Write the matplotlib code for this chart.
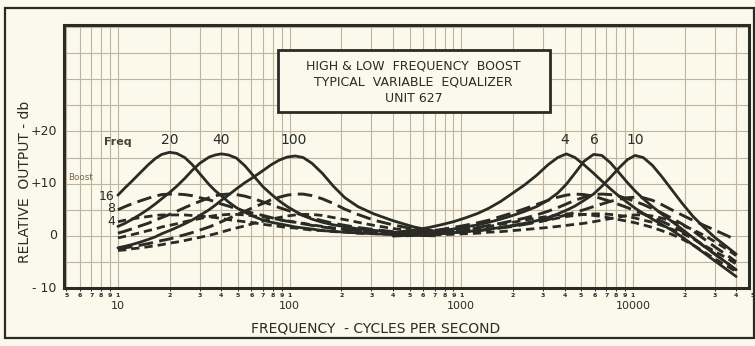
import matplotlib
matplotlib.use("Agg")
from matplotlib import pyplot as plt
from matplotlib.patches import Rectangle

lf_freq = [10, 11, 12, 13.5, 15, 16.5, 18, 20, 22, 24.5, 27, 30, 34, 37, 40, 44, 49, 55, 62, 70, 78, 87, 97,
           108, 120, 135, 155, 180, 210, 250, 310, 400, 530, 700]
hf_freq = [400, 470, 550, 650, 760, 900, 1050, 1250, 1450, 1700, 2000, 2350, 2750, 3200, 3650, 4100, 4600,
           5200, 5900, 6600, 7400, 8300, 9300, 10300, 11500, 13000, 14700, 16800, 19300, 22300, 26000, 30000,
           35000, 40000]

# low frequency boost curves, db  (name = centre freq _ boost)
lf_20_16 = [7.8, 9.2, 10.4, 12.1, 13.6, 14.8, 15.6, 16.0, 15.8, 15.0, 13.7, 11.9, 9.8, 8.6, 7.7, 6.5, 5.4, 4.5,
            3.7, 3.0, 2.6, 2.3, 2.0, 1.7, 1.5, 1.3, 1.0, 0.85, 0.7, 0.55, 0.4, 0.25, 0.1, 0.0]
lf_20_8 = [5.0, 5.6, 6.1, 6.7, 7.2, 7.6, 7.9, 8.0, 8.0, 7.9, 7.7, 7.3, 6.9, 6.5, 6.1, 5.7, 5.2, 4.7, 4.3, 3.9,
           3.5, 3.1, 2.8, 2.6, 2.3, 2.0, 1.7, 1.4, 1.2, 1.0, 0.7, 0.5, 0.3, 0.1]
lf_20_4 = [2.7, 3.0, 3.2, 3.5, 3.7, 3.9, 4.0, 4.0, 4.0, 4.0, 3.9, 3.8, 3.6, 3.5, 3.3, 3.1, 2.9, 2.7, 2.5, 2.2,
           2.0, 1.8, 1.6, 1.5, 1.3, 1.1, 1.0, 0.8, 0.7, 0.5, 0.4, 0.3, 0.2, 0.1]
lf_40_16 = [1.8, 2.4, 3.1, 4.1, 5.1, 6.1, 7.1, 8.3, 9.5, 11.0, 12.5, 13.9, 15.1, 15.5, 15.7, 15.5, 14.9, 13.4,
            11.4, 9.4, 8.0, 6.7, 5.6, 4.7, 3.9, 3.2, 2.6, 2.1, 1.75, 1.35, 1.05, 0.7, 0.45, 0.3]
lf_40_8 = [0.5, 0.9, 1.3, 1.9, 2.4, 3.0, 3.5, 4.1, 4.7, 5.4, 6.0, 6.6, 7.3, 7.7, 7.9, 8.0, 7.9, 7.6, 7.1, 6.5,
           6.0, 5.4, 4.9, 4.4, 3.9, 3.4, 2.9, 2.4, 2.0, 1.6, 1.2, 0.8, 0.5, 0.3]
lf_40_4 = [-0.4, -0.1, 0.2, 0.6, 1.0, 1.3, 1.7, 2.0, 2.3, 2.7, 3.0, 3.3, 3.7, 3.9, 4.0, 4.1, 4.1, 4.0, 3.8, 3.6,
           3.4, 3.1, 2.9, 2.6, 2.4, 2.1, 1.8, 1.5, 1.3, 1.0, 0.8, 0.5, 0.3, 0.2]
lf_100_16 = [-2.3, -2.0, -1.7, -1.2, -0.7, -0.2, 0.4, 1.0, 1.6, 2.3, 3.0, 3.9, 5.0, 5.9, 6.8, 7.8, 9.0, 10.2,
             11.3, 12.5, 13.6, 14.5, 15.1, 15.3, 15.0, 13.9, 12.0, 9.5, 7.3, 5.6, 4.2, 2.9, 1.7, 0.9]
lf_100_8 = [-2.5, -2.3, -2.1, -1.8, -1.5, -1.2, -0.9, -0.6, -0.2, 0.2, 0.6, 1.1, 1.7, 2.2, 2.7, 3.3, 4.0, 4.7,
            5.5, 6.2, 6.9, 7.4, 7.8, 8.0, 8.0, 7.7, 7.1, 6.2, 5.1, 4.1, 3.0, 2.1, 1.3, 0.6]
lf_100_4 = [-2.8, -2.7, -2.5, -2.3, -2.1, -1.9, -1.7, -1.4, -1.2, -0.9, -0.6, -0.3, 0.1, 0.4, 0.7, 1.1, 1.5, 1.9,
            2.4, 2.8, 3.2, 3.5, 3.8, 4.0, 4.1, 4.1, 3.9, 3.5, 3.1, 2.6, 2.0, 1.4, 0.9, 0.5]

# high frequency boost curves, db
hf_4k_16 = [0.6, 0.9, 1.2, 1.6, 2.1, 2.7, 3.4, 4.3, 5.3, 6.6, 8.2, 9.8, 11.6, 13.6, 15.0, 15.7, 15.0, 13.6, 12.0,
            10.5, 9.0, 7.6, 6.4, 5.3, 4.3, 3.2, 2.2, 1.1, -0.2, -1.7, -3.3, -4.8, -6.4, -7.8]
hf_4k_8 = [0.3, 0.5, 0.7, 0.9, 1.2, 1.6, 2.0, 2.5, 3.0, 3.7, 4.4, 5.2, 6.0, 6.8, 7.4, 7.8, 8.0, 7.9, 7.6, 7.1,
           6.6, 6.0, 5.4, 4.8, 4.2, 3.5, 2.8, 1.9, 0.9, -0.4, -2.0, -3.5, -5.1, -6.6]
hf_4k_4 = [0.2, 0.3, 0.4, 0.6, 0.8, 1.0, 1.2, 1.5, 1.8, 2.2, 2.6, 3.0, 3.4, 3.7, 4.0, 4.2, 4.2, 4.1, 3.9, 3.7,
           3.4, 3.1, 2.8, 2.5, 2.1, 1.6, 1.0, 0.3, -0.6, -1.7, -3.1, -4.4, -5.7, -6.9]
hf_6k_16 = [0.1, 0.3, 0.5, 0.7, 1.0, 1.3, 1.7, 2.1, 2.6, 3.2, 3.9, 4.7, 5.6, 6.8, 8.2, 9.9, 12.0, 14.3, 15.6,
            15.4, 14.0, 12.1, 10.2, 8.6, 7.1, 5.6, 4.2, 2.8, 1.3, -0.3, -2.0, -3.5, -5.1, -6.5]
hf_6k_8 = [0.1, 0.2, 0.4, 0.6, 0.8, 1.0, 1.3, 1.6, 2.0, 2.4, 2.9, 3.4, 4.0, 4.7, 5.4, 6.1, 6.8, 7.4, 7.9, 8.0,
           7.9, 7.6, 7.1, 6.6, 6.0, 5.2, 4.4, 3.4, 2.3, 1.0, -0.6, -2.1, -3.6, -5.0]
hf_6k_4 = [0.1, 0.1, 0.2, 0.3, 0.5, 0.6, 0.8, 1.0, 1.3, 1.6, 1.9, 2.3, 2.7, 3.0, 3.4, 3.7, 3.9, 4.1, 4.2, 4.2,
           4.1, 3.9, 3.7, 3.4, 3.0, 2.6, 2.0, 1.3, 0.5, -0.5, -1.8, -3.0, -4.2, -5.4]
hf_10k_16 = [0.0, 0.1, 0.2, 0.3, 0.5, 0.6, 0.8, 1.0, 1.3, 1.6, 2.0, 2.4, 2.9, 3.5, 4.2, 4.9, 5.7, 6.8, 8.0, 9.5,
             11.2, 13.0, 14.6, 15.4, 15.0, 13.5, 11.4, 8.9, 6.3, 3.8, 1.6, -0.3, -2.0, -3.5]
hf_10k_8 = [0.0, 0.1, 0.2, 0.3, 0.4, 0.6, 0.8, 1.0, 1.2, 1.5, 1.8, 2.2, 2.6, 3.1, 3.6, 4.0, 4.5, 5.0, 5.6, 6.1,
            6.6, 7.0, 7.3, 7.4, 7.3, 6.8, 6.0, 5.0, 4.0, 3.0, 2.0, 1.1, 0.1, -0.8]
hf_10k_4 = [0.0, 0.0, 0.1, 0.2, 0.2, 0.3, 0.4, 0.5, 0.7, 0.8, 1.0, 1.2, 1.4, 1.6, 1.8, 2.0, 2.2, 2.4, 2.7, 3.0,
            3.3, 3.6, 3.9, 4.0, 4.0, 3.8, 3.4, 2.8, 2.1, 1.2, 0.1, -1.1, -2.5, -3.8]

ink = "#2b2b25"
paper = "#fbf9ec"
grid_col = "#c2b39d"

fig = plt.figure(figsize=(7.55, 3.46), dpi=100)
fig.patch.set_facecolor(paper)
fig.patches.append(Rectangle((5 / 755, 1 - 338 / 346), 749 / 755, 330 / 346, transform=fig.transFigure,
                             fill=False, edgecolor=ink, linewidth=1.6))

ax = fig.add_axes([64 / 755, 1 - 288 / 346, 685 / 755, 263 / 346])
ax.set_facecolor(paper)
ax.set_xscale("log")
ax.set_xlim(4.85, 47500)
ax.set_ylim(-10, 40.4)

# grid: every 1..9 on the log axis, every 5 db
for dec in [1, 10, 100, 1000, 10000]:
    for m in range(1, 10):
        f = m * dec
        if 4.85 < f < 47500:
            ax.axvline(f, color=grid_col, lw=0.8, zorder=0)
for y in range(-5, 41, 5):
    ax.axhline(y, color=grid_col, lw=0.8, zorder=0)

for s in ax.spines.values():
    s.set_linewidth(2.2)
    s.set_color(ink)
ax.set_xticks([])
ax.set_yticks([])

solid = dict(color=ink, lw=2.0, ls="-", solid_capstyle="round")
long_dash = dict(color=ink, lw=2.1, ls=(0, (5, 2.2)))
short_dash = dict(color=ink, lw=2.0, ls=(0, (3, 1.8)))

for vals, st in [(lf_20_16, solid), (lf_40_16, solid), (lf_100_16, solid),
                 (lf_20_8, long_dash), (lf_40_8, long_dash), (lf_100_8, long_dash),
                 (lf_20_4, short_dash), (lf_40_4, short_dash), (lf_100_4, short_dash)]:
    ax.plot(lf_freq, vals, **st)
for vals, st in [(hf_4k_16, solid), (hf_6k_16, solid), (hf_10k_16, solid),
                 (hf_4k_8, long_dash), (hf_6k_8, long_dash), (hf_10k_8, long_dash),
                 (hf_4k_4, short_dash), (hf_6k_4, short_dash), (hf_10k_4, short_dash)]:
    ax.plot(hf_freq, vals, **st)

# curve labels
ax.text(8.3, 17.9, "Freq", fontsize=8, color="#4a4232", ha="left", va="center", fontweight="bold")
for f, lab in [(20, "20"), (40, "40"), (105, "100"), (4000, "4"), (6000, "6"), (10300, "10")]:
    ax.text(f, 18.3, lab, fontsize=10, color=ink, ha="center", va="center")
ax.text(5.1, 11.1, "Boost", fontsize=6.3, color="#7a6448", ha="left", va="center")
for y, lab in [(7.6, "16"), (5.2, "8"), (2.7, "4")]:
    ax.text(9.6, y, lab, fontsize=9, color=ink, ha="right", va="center")

# title box
ax.add_patch(Rectangle((0.312, 0.669), 0.3975, 0.236, transform=ax.transAxes, facecolor=paper,
                       edgecolor=ink, linewidth=2.0, zorder=5))
ax.text(0.5105, 0.783, "HIGH & LOW  FREQUENCY  BOOST\nTYPICAL  VARIABLE  EQUALIZER\nUNIT 627",
        transform=ax.transAxes, fontsize=9, color=ink, ha="center", va="center", linespacing=1.3,
        zorder=6)

# y tick labels
for y, lab in [(20, "+20"), (10, "+10"), (0, "0"), (-10, "- 10")]:
    ax.text(4.4, y, lab, fontsize=9, color=ink, ha="right", va="center")

# small x tick digits and decade labels
small = []
for dec in [1, 10, 100, 1000, 10000]:
    for m in range(1, 10):
        f = m * dec
        if 4.9 <= f <= 50000:
            small.append((f, "1" if m == 1 else str(m)))
for f, lab in small:
    ax.text(f, -11.4, lab, fontsize=4.5, color=ink, ha="center", va="center", fontweight="bold",
            clip_on=False)
for f in [10, 100, 1000, 10000]:
    ax.text(f, -13.5, str(f), fontsize=8, color=ink, ha="center", va="center", clip_on=False)

fig.text(376 / 755, 1 - 328 / 346, "FREQUENCY  - CYCLES PER SECOND", fontsize=10, color=ink,
         ha="center", va="center")
fig.text(25 / 755, 1 - 182 / 346, "RELATIVE  OUTPUT - db", fontsize=10, color=ink,
         ha="center", va="center", rotation=90)

fig.savefig("out.png", dpi=100, facecolor=paper)
